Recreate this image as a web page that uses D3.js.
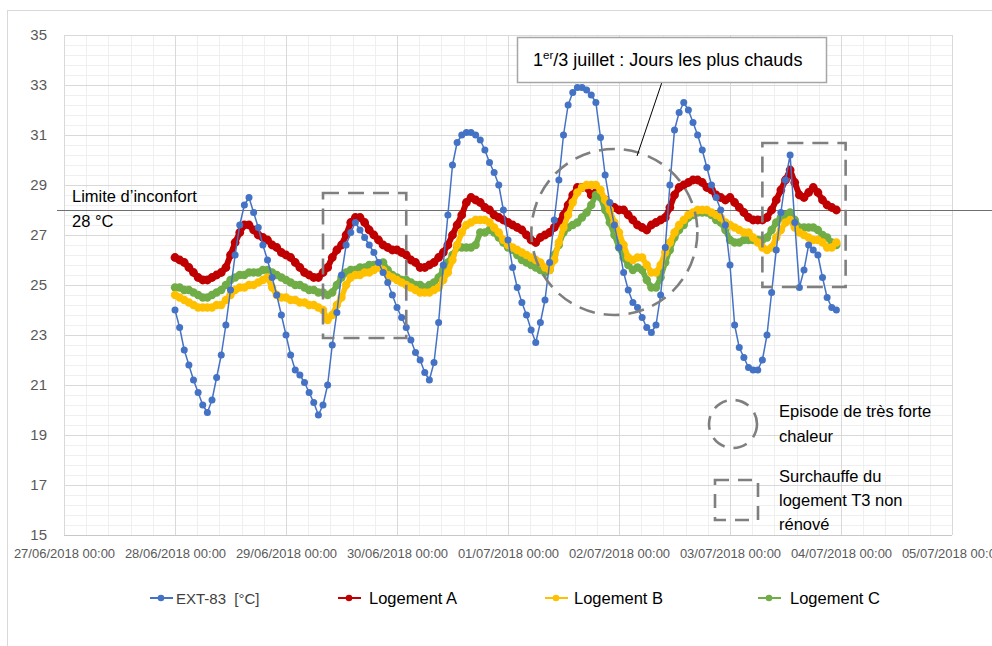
<!DOCTYPE html>
<html><head><meta charset="utf-8">
<script src="https://cdn.jsdelivr.net/npm/d3@7"></script>
<style>
html,body{margin:0;padding:0;background:#fff;}
svg{display:block;font-family:"Liberation Sans",Arial,sans-serif;}
</style></head>
<body><svg id="c" width="992" height="646"></svg>
<script>
// ---------- DATA (hourly, from 28/06/2018 00:00) ----------
const seriesNames = ["EXT-83\u00a0 [°C]", "Logement A", "Logement B", "Logement C"];
const seriesColors = ["#4472C4", "#C00000", "#FFC000", "#70AD47"];
const startDate = new Date(2018, 5, 28, 0, 0);
const dayTicks = ["27/06/2018 00:00","28/06/2018 00:00","29/06/2018 00:00","30/06/2018 00:00","01/07/2018 00:00","02/07/2018 00:00","03/07/2018 00:00","04/07/2018 00:00","05/07/2018 00:00"];
const yTicks = [15,17,19,21,23,25,27,29,31,33,35];
const comfortLimit = 28;

const ext83 = [
24.0,23.3,22.4,21.8,21.2,20.7,20.2,19.9,20.4,21.3,22.2,23.4,24.8,26.2,27.4,28.2,28.5,27.9,27.3,26.6,
26.0,25.3,24.6,23.8,23.0,22.2,21.6,21.4,21.1,20.7,20.3,19.8,20.2,21.0,22.6,23.9,25.4,26.6,27.1,27.5,
27.2,26.9,26.6,26.3,25.9,25.5,25.1,24.6,24.1,23.7,23.3,22.8,22.3,22.0,21.5,21.2,21.9,23.5,25.8,27.8,
29.8,30.7,31.0,31.1,31.1,31.0,30.8,30.4,29.9,29.5,29.0,28.0,26.8,25.7,24.9,24.3,23.8,23.2,22.7,23.5,
24.4,25.9,27.6,29.2,31.0,32.2,32.7,32.9,32.9,32.8,32.6,32.3,30.9,29.4,28.3,27.4,26.5,25.5,24.8,24.3,
24.1,23.7,23.3,23.1,23.4,24.6,26.5,29.0,31.2,31.9,32.3,32.0,31.5,31.0,30.4,29.7,29.0,28.5,28.0,27.4,
25.8,23.4,22.5,22.1,21.7,21.6,21.6,22.0,23.0,24.7,26.4,27.9,29.2,30.2,27.5,24.9,25.6,26.6,26.4,26.2,
25.3,24.5,24.1,24.0];
const logementA = [
26.1,26.0,25.9,25.7,25.5,25.3,25.2,25.2,25.3,25.4,25.5,25.7,26.2,26.7,27.1,27.4,27.4,27.2,27.0,26.9,
26.8,26.6,26.5,26.3,26.2,26.1,25.9,25.7,25.5,25.4,25.3,25.3,25.5,25.7,26.1,26.4,26.6,27.0,27.5,27.7,
27.7,27.5,27.2,27.0,26.8,26.6,26.5,26.4,26.4,26.3,26.2,26.0,25.9,25.7,25.7,25.8,25.9,26.1,26.3,26.6,
27.0,27.4,27.8,28.3,28.5,28.4,28.3,28.1,28.0,27.8,27.7,27.6,27.5,27.4,27.3,27.2,27.0,26.8,26.7,26.9,
27.0,27.1,27.3,27.5,27.8,28.2,28.6,28.9,28.9,28.9,28.6,28.7,28.6,28.4,28.2,28.1,28.0,28.0,27.8,27.6,
27.4,27.3,27.2,27.4,27.5,27.6,27.7,28.1,28.6,28.9,29.0,29.1,29.2,29.2,29.1,28.9,28.8,28.6,28.5,28.4,
28.5,28.3,28.1,27.9,27.7,27.6,27.6,27.6,27.7,28.0,28.4,28.8,29.2,29.6,29.1,28.6,28.5,28.7,28.9,28.7,
28.4,28.2,28.1,28.0];
const logementB = [
24.6,24.5,24.4,24.3,24.2,24.1,24.1,24.1,24.1,24.2,24.2,24.4,24.6,24.8,24.9,24.9,25.0,25.0,25.1,25.2,
25.3,24.9,24.6,24.5,24.5,24.4,24.4,24.3,24.3,24.2,24.2,24.1,24.0,23.6,23.8,24.2,24.5,25.0,25.3,25.4,
25.4,25.5,25.5,25.6,25.7,25.6,25.4,25.3,25.2,25.1,25.0,24.9,24.8,24.7,24.7,24.7,24.8,24.9,25.2,25.5,
26.0,26.6,27.1,27.4,27.5,27.6,27.6,27.6,27.5,27.3,27.1,26.8,26.6,26.5,26.4,26.3,26.2,26.1,26.0,25.9,
25.7,25.6,26.0,26.7,27.3,27.8,28.3,28.7,28.9,29.0,29.0,29.0,28.8,28.4,28.0,27.5,27.1,26.6,26.1,26.0,
26.1,26.1,25.8,25.5,25.5,25.8,26.3,26.7,27.1,27.4,27.6,27.8,27.9,28.0,28.0,28.0,27.9,27.8,27.7,27.5,
27.4,27.3,27.2,27.1,27.1,26.9,26.7,26.5,26.4,26.5,26.9,27.2,27.5,27.6,27.3,27.1,27.0,26.9,26.8,26.8,
26.7,26.5,26.5,26.7];
const logementC = [
24.9,24.9,24.8,24.8,24.7,24.6,24.5,24.5,24.6,24.7,24.8,25.0,25.2,25.3,25.4,25.4,25.5,25.5,25.5,25.6,
25.6,25.5,25.4,25.3,25.2,25.1,25.0,25.0,24.9,24.8,24.8,24.7,24.7,24.6,24.7,25.0,25.3,25.5,25.6,25.6,
25.7,25.7,25.8,25.8,25.8,25.9,25.6,25.4,25.3,25.2,25.2,25.1,25.0,25.0,24.9,25.0,25.1,25.3,25.6,25.9,
26.2,26.5,26.5,26.5,26.5,26.6,27.1,27.1,27.2,27.1,26.9,26.7,26.5,26.4,26.2,26.0,25.9,25.8,25.7,25.6,
25.5,25.6,26.2,26.6,27.1,27.3,27.4,27.5,27.7,27.9,28.2,28.6,28.5,28.0,27.5,27.0,26.5,26.1,25.8,25.6,
25.7,25.6,25.2,24.9,24.9,25.3,25.9,26.4,26.9,27.2,27.4,27.7,27.8,27.9,27.9,27.9,27.8,27.6,27.5,27.2,
26.8,26.7,26.7,26.8,26.8,26.8,26.8,26.8,26.9,27.2,27.5,27.7,27.8,27.9,27.6,27.3,27.3,27.3,27.3,27.2,
27.0,26.9,26.7,26.6];

// ---------- CHART ----------
const svg = d3.select("#c");
const L = 64, R = 952, T = 35, B = 535;
const parse = d3.timeParse("%d/%m/%Y %H:%M");
const fmt = d3.timeFormat("%d/%m/%Y %H:%M");
const tickDates = dayTicks.map(parse);
const x = d3.scaleTime().domain([tickDates[0], tickDates[tickDates.length-1]]).range([L, R]);
const y = d3.scaleLinear().domain([15, 35]).range([B, T]);
const hourDate = i => d3.timeHour.offset(startDate, i);

// outer frame
svg.append("rect").attr("x", 7.5).attr("y", 10.5).attr("width", 1000).attr("height", 660)
  .attr("fill", "none").attr("stroke", "#d9d9d9");

// grid
const g = svg.append("g");
const minorY = d3.range(15, 35.001, 0.4);
g.selectAll(".my").data(minorY).join("line")
  .attr("x1", L).attr("x2", R).attr("y1", d => Math.round(y(d)) + 0.5).attr("y2", d => Math.round(y(d)) + 0.5)
  .attr("stroke", "#efefef");
const minorX = d3.range(0, 8 * 5 + 1).map(i => d3.timeMinute.offset(tickDates[0], i * 288));
g.selectAll(".mx").data(minorX).join("line")
  .attr("y1", T).attr("y2", B).attr("x1", d => Math.round(x(d)) + 0.5).attr("x2", d => Math.round(x(d)) + 0.5)
  .attr("stroke", "#efefef");
g.selectAll(".gy").data(yTicks).join("line")
  .attr("x1", L).attr("x2", R).attr("y1", d => Math.round(y(d)) + 0.5).attr("y2", d => Math.round(y(d)) + 0.5)
  .attr("stroke", d => d === 15 ? "#c8c8c8" : "#d9d9d9");
g.selectAll(".gx").data(tickDates).join("line")
  .attr("y1", T).attr("y2", B).attr("x1", d => Math.round(x(d)) + 0.5).attr("x2", d => Math.round(x(d)) + 0.5)
  .attr("stroke", "#d9d9d9");

// axes
const yAxis = svg.append("g").attr("transform", `translate(${L},0)`)
  .call(d3.axisLeft(y).tickValues(yTicks).tickSize(0).tickPadding(17));
yAxis.select(".domain").remove();
yAxis.selectAll("text").attr("font-size", 15).attr("fill", "#595959").attr("font-family", "Liberation Sans, Arial, sans-serif");

const xAxis = svg.append("g").attr("transform", `translate(0,${B})`)
  .call(d3.axisBottom(x).tickValues(tickDates).tickFormat(fmt).tickSize(0).tickPadding(14));
xAxis.select(".domain").remove();
xAxis.selectAll("text").attr("font-size", 13).attr("fill", "#595959").attr("font-family", "Liberation Sans, Arial, sans-serif");

// comfort limit line
svg.append("line").attr("x1", 57).attr("x2", 992)
  .attr("y1", Math.round(y(comfortLimit)) + 0.5).attr("y2", Math.round(y(comfortLimit)) + 0.5)
  .attr("stroke", "#6f6f6f").attr("stroke-width", 1.2);
svg.append("text").attr("x", 72).attr("y", y(comfortLimit) - 8).attr("font-size", 16.5).attr("fill", "#000")
  .text("Limite d’inconfort");
svg.append("text").attr("x", 72).attr("y", y(comfortLimit) + 17).attr("font-size", 16.5).attr("fill", "#000")
  .text("28 °C");

// series
const allSeries = [ext83, logementA, logementB, logementC];
const styles = [
  {lw: 1.5, r: 3.5},
  {lw: 6, r: 4.4},
  {lw: 5.5, r: 4.2},
  {lw: 5.5, r: 4.2}
];
const line = d3.line().x((d, i) => x(hourDate(i))).y(d => y(d));
const drawOrder = [1, 3, 2, 0];
drawOrder.forEach(k => {
  const sg = svg.append("g");
  sg.append("path").datum(allSeries[k]).attr("d", line).attr("fill", "none")
    .attr("stroke", seriesColors[k]).attr("stroke-width", styles[k].lw)
    .attr("stroke-linejoin", "round").attr("stroke-linecap", "round");
  sg.selectAll("circle").data(allSeries[k]).join("circle")
    .attr("cx", (d, i) => x(hourDate(i))).attr("cy", d => y(d)).attr("r", styles[k].r)
    .attr("fill", seriesColors[k]);
});

// annotations (positioned in data space)
const ann = svg.append("g").attr("fill", "none").attr("stroke", "#7f7f7f").attr("stroke-width", 2.6).attr("stroke-dasharray", "16,9");
function boxAt(h0, h1, v0, v1) {
  ann.append("rect").attr("x", x(hourDate(h0))).attr("y", y(v1))
    .attr("width", x(hourDate(h1)) - x(hourDate(h0))).attr("height", y(v0) - y(v1));
}
boxAt(32.2, 50.4, 22.88, 28.68);
boxAt(127.1, 145.5, 24.92, 30.68);
ann.append("circle").attr("cx", x(hourDate(95.4))).attr("cy", y(27.12)).attr("r", 83);

// heatwave call-out
svg.append("line").attr("x1", 662).attr("y1", 82).attr("x2", 637).attr("y2", 156)
  .attr("stroke", "#000").attr("stroke-width", 1);
svg.append("rect").attr("x", 517.5).attr("y", 37.5).attr("width", 309).attr("height", 45)
  .attr("fill", "#fff").attr("stroke", "#a6a6a6").attr("stroke-width", 1.5);
const tt = svg.append("text").attr("x", 533).attr("y", 66).attr("font-size", 18).attr("fill", "#000");
tt.append("tspan").text("1");
tt.append("tspan").attr("font-size", 11.5).attr("dy", -7).text("er");
tt.append("tspan").attr("dy", 7).text("/3 juillet : Jours les plus chauds");

// annotation legend
const al = svg.append("g");
al.append("circle").attr("cx", 733).attr("cy", 424).attr("r", 24)
  .attr("fill", "none").attr("stroke", "#7f7f7f").attr("stroke-width", 2.6).attr("stroke-dasharray", "14,9");
al.append("rect").attr("x", 715).attr("y", 480).attr("width", 43).attr("height", 40)
  .attr("fill", "none").attr("stroke", "#7f7f7f").attr("stroke-width", 2.6).attr("stroke-dasharray", "14,9");
[["Episode de très forte", 417], ["chaleur", 442], ["Surchauffe du", 482], ["logement T3 non", 506], ["rénové", 530]]
  .forEach(([t, yy]) => al.append("text").attr("x", 779).attr("y", yy).attr("font-size", 16.5).attr("fill", "#000").text(t));

// series legend
const legX = [161, 349, 556, 769];
const legTX = [176, 369, 574, 790];
const lg = svg.append("g");
seriesNames.forEach((n, k) => {
  lg.append("line").attr("x1", legX[k] - 11).attr("x2", legX[k] + 12).attr("y1", 598).attr("y2", 598)
    .attr("stroke", seriesColors[k]).attr("stroke-width", 2);
  lg.append("circle").attr("cx", legX[k]).attr("cy", 598).attr("r", 3.3).attr("fill", seriesColors[k]);
  lg.append("text").attr("x", legTX[k]).attr("y", 604).attr("font-size", k === 0 ? 15 : 16.5)
    .attr("fill", k === 0 ? "#404040" : "#000").text(n);
});
</script></body></html>
